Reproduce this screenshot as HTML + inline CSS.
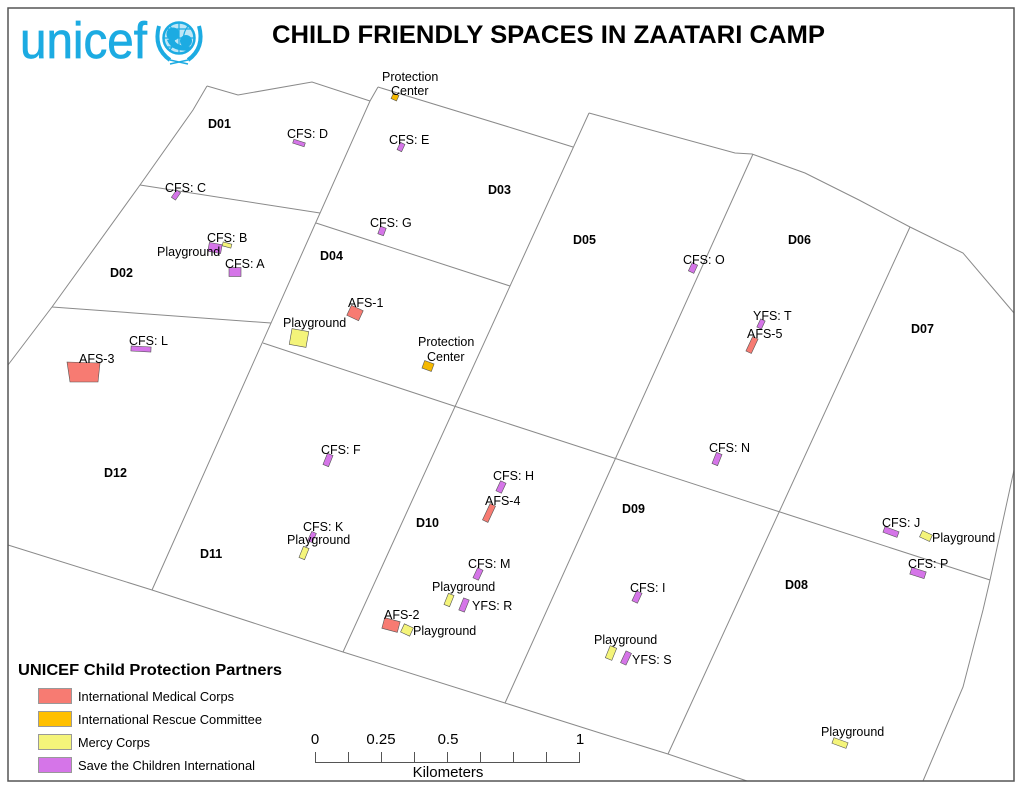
<!DOCTYPE html>
<html><head><meta charset="utf-8"><style>
html,body{margin:0;padding:0;background:#fff;}
svg{display:block;}
text{font-family:"Liberation Sans",Arial,sans-serif;}
</style></head><body>
<svg width="1024" height="791" viewBox="0 0 1024 791" xmlns="http://www.w3.org/2000/svg">
<rect x="0" y="0" width="1024" height="791" fill="#fff"/>
<!-- map lines -->
<g fill="none" stroke="#8a8a8a" stroke-width="1">
<polyline points="207,86 193,110 140,185 52,307 8,365"/>
<polyline points="207,86 238,95 312,82 370,101"/>
<polyline points="378,87 370,101 152,590"/>
<polyline points="378,87 512,128 573,147"/>
<polyline points="589,113 343,652"/>
<polyline points="589,113 735,153 752,154 805,173 859,200 910,227 963,253 1014,313"/>
<polyline points="753,154 505,703"/>
<polyline points="910,227 668,754"/>
<polyline points="140,185 320,213"/>
<polyline points="316,223 510,286"/>
<polyline points="52,307 271,323"/>
<polyline points="263,343 457,407 617,459 780,512 990,580"/>
<polyline points="8,545 152,590 343,652 505,703 600,733 668,754 747,781"/>
<polyline points="1014,470 990,580 983,610 963,687 923,781"/>
</g>
<!-- frame -->
<rect x="8" y="8" width="1006" height="773" fill="none" stroke="#555" stroke-width="1.5"/>

<!-- logo -->
<text x="20" y="58" font-size="51" fill="#1CABE2" stroke="#1CABE2" stroke-width="0.7" textLength="127" lengthAdjust="spacingAndGlyphs">unicef</text>
<g stroke="#1CABE2" fill="none">
<circle cx="179" cy="38" r="15.5" stroke-width="2.5" fill="#bfe6f6"/>
<path d="M164,38 H194 M179,23 V53 M167,29 H191 M167,47 H191 M170,26 Q179,38 170,50 M188,26 Q179,38 188,50" stroke-width="1.2"/>
<path d="M159,26 Q153,48 170,60 M199,26 Q205,48 188,60" stroke-width="4"/>
<path d="M170,60 L188,64 M188,60 L170,64" stroke-width="1.5"/>
</g>
<circle cx="173" cy="34" r="6.5" fill="#1CABE2"/>
<circle cx="186" cy="41" r="6" fill="#1CABE2"/>
<path d="M167,40 Q172,53 191,50 L187,45 Q177,47 173,38 Z" fill="#1CABE2"/>

<!-- title -->
<text x="272" y="43" font-size="25" font-weight="bold" fill="#000" textLength="553" lengthAdjust="spacingAndGlyphs">CHILD FRIENDLY SPACES IN ZAATARI CAMP</text>

<!-- district labels -->
<g font-size="12.5" font-weight="bold" fill="#000">
<text x="208" y="128">D01</text>
<text x="488" y="194">D03</text>
<text x="110" y="277">D02</text>
<text x="320" y="260">D04</text>
<text x="573" y="244">D05</text>
<text x="788" y="244">D06</text>
<text x="911" y="333">D07</text>
<text x="785" y="589">D08</text>
<text x="622" y="513">D09</text>
<text x="416" y="527">D10</text>
<text x="200" y="558">D11</text>
<text x="104" y="477">D12</text>
</g>

<!-- features -->
<g stroke="#555" stroke-width="0.6">
<g fill="#D575E8">
<rect x="293" y="141" width="12" height="4" transform="rotate(18 299 143)"/>
<rect x="398.5" y="143" width="5" height="8" transform="rotate(25 401 147)"/>
<rect x="173.5" y="190.5" width="5" height="9" transform="rotate(35 176 195)"/>
<rect x="208.5" y="243.5" width="13" height="9" transform="rotate(10 215 248)"/>
<rect x="229" y="267.5" width="12" height="9"/>
<rect x="131" y="346.5" width="20" height="5" transform="rotate(3 141 349)"/>
<rect x="379" y="227" width="6" height="8" transform="rotate(20 382 231)"/>
<rect x="325" y="454" width="6" height="12" transform="rotate(22 328 460)"/>
<rect x="498" y="481.5" width="6" height="11" transform="rotate(25 501 487)"/>
<rect x="475" y="568.5" width="6" height="11" transform="rotate(25 478 574)"/>
<rect x="461" y="598.5" width="6" height="13" transform="rotate(22 464 605)"/>
<rect x="634" y="591.5" width="6" height="11" transform="rotate(25 637 597)"/>
<rect x="623" y="651.5" width="6" height="13" transform="rotate(25 626 658)"/>
<rect x="714" y="453" width="6" height="12" transform="rotate(22 717 459)"/>
<rect x="758.5" y="319.5" width="5" height="9" transform="rotate(25 761 324)"/>
<rect x="690" y="263.5" width="6" height="9" transform="rotate(25 693 268)"/>
<rect x="883.5" y="529" width="15" height="6" transform="rotate(20 891 532)"/>
<rect x="910.5" y="569.5" width="15" height="7" transform="rotate(18 918 573)"/>
<rect x="309.5" y="532" width="5" height="10" transform="rotate(25 312 537)"/>
</g>
<g fill="#F4F47A">
<rect x="222.5" y="243" width="9" height="4" transform="rotate(15 227 245)"/>
<rect x="290.5" y="330" width="17" height="16" transform="rotate(10 299 338)"/>
<rect x="446" y="594" width="6" height="12" transform="rotate(22 449 600)"/>
<rect x="402" y="625.5" width="10" height="9" transform="rotate(25 407 630)"/>
<rect x="607.5" y="646.5" width="7" height="13" transform="rotate(22 611 653)"/>
<rect x="920.5" y="532.5" width="11" height="7" transform="rotate(25 926 536)"/>
<rect x="832.5" y="740" width="15" height="6" transform="rotate(20 840 743)"/>
<rect x="301" y="547" width="6" height="12" transform="rotate(22 304 553)"/>
</g>
<g fill="#F5B800">
<rect x="392" y="94" width="6" height="6" transform="rotate(25 395 97)"/>
<rect x="423" y="362" width="10" height="8" transform="rotate(20 428 366)"/>
</g>
<g fill="#F77B72">
<polygon points="67,362 100,363 98,382 70,382"/>
<rect x="348.5" y="307.5" width="13" height="11" transform="rotate(25 355 313)"/>
<rect x="486" y="504" width="6" height="18" transform="rotate(25 489 513)"/>
<rect x="383" y="619.5" width="16" height="11" transform="rotate(15 391 625)"/>
<rect x="749" y="337" width="6" height="16" transform="rotate(25 752 345)"/>
</g>
</g>

<!-- feature labels -->
<g font-size="12.5" fill="#000">
<text x="382" y="81">Protection</text>
<text x="391" y="95">Center</text>
<text x="287" y="138">CFS: D</text>
<text x="389" y="144">CFS: E</text>
<text x="165" y="192">CFS: C</text>
<text x="207" y="242">CFS: B</text>
<text x="157" y="256">Playground</text>
<text x="225" y="268">CFS: A</text>
<text x="129" y="345">CFS: L</text>
<text x="79" y="363">AFS-3</text>
<text x="283" y="327">Playground</text>
<text x="348" y="307">AFS-1</text>
<text x="418" y="346">Protection</text>
<text x="427" y="361">Center</text>
<text x="370" y="227">CFS: G</text>
<text x="321" y="454">CFS: F</text>
<text x="493" y="480">CFS: H</text>
<text x="485" y="505">AFS-4</text>
<text x="468" y="568">CFS: M</text>
<text x="432" y="591">Playground</text>
<text x="472" y="610">YFS: R</text>
<text x="384" y="619">AFS-2</text>
<text x="413" y="635">Playground</text>
<text x="630" y="592">CFS: I</text>
<text x="594" y="644">Playground</text>
<text x="632" y="664">YFS: S</text>
<text x="709" y="452">CFS: N</text>
<text x="753" y="320">YFS: T</text>
<text x="747" y="338">AFS-5</text>
<text x="683" y="264">CFS: O</text>
<text x="882" y="527">CFS: J</text>
<text x="932" y="542">Playground</text>
<text x="908" y="568">CFS: P</text>
<text x="821" y="736">Playground</text>
<text x="303" y="531">CFS: K</text>
<text x="287" y="544">Playground</text>
</g>

<!-- legend -->
<text x="18" y="675" font-size="16" font-weight="bold" fill="#000" textLength="264" lengthAdjust="spacingAndGlyphs">UNICEF Child Protection Partners</text>
<g stroke="#999" stroke-width="1">
<rect x="38.5" y="688.5" width="33" height="15" fill="#F77B72"/>
<rect x="38.5" y="711.5" width="33" height="15" fill="#FFC000"/>
<rect x="38.5" y="734.5" width="33" height="15" fill="#F4F47A"/>
<rect x="38.5" y="757.5" width="33" height="15" fill="#D575E8"/>
</g>
<g font-size="13" fill="#000">
<text x="78" y="701" textLength="156" lengthAdjust="spacingAndGlyphs">International Medical Corps</text>
<text x="78" y="724" textLength="184" lengthAdjust="spacingAndGlyphs">International Rescue Committee</text>
<text x="78" y="747" textLength="72" lengthAdjust="spacingAndGlyphs">Mercy Corps</text>
<text x="78" y="770" textLength="177" lengthAdjust="spacingAndGlyphs">Save the Children International</text>
</g>

<!-- scale bar -->
<g stroke="#555" stroke-width="1" fill="none">
<line x1="315" y1="762.5" x2="580" y2="762.5"/>
<line x1="315.5" y1="752" x2="315.5" y2="763"/>
<line x1="348.5" y1="752" x2="348.5" y2="763"/>
<line x1="381.5" y1="752" x2="381.5" y2="763"/>
<line x1="414.5" y1="752" x2="414.5" y2="763"/>
<line x1="447.5" y1="752" x2="447.5" y2="763"/>
<line x1="480.5" y1="752" x2="480.5" y2="763"/>
<line x1="513.5" y1="752" x2="513.5" y2="763"/>
<line x1="546.5" y1="752" x2="546.5" y2="763"/>
<line x1="579.5" y1="752" x2="579.5" y2="763"/>
</g>
<g font-size="15" fill="#000" text-anchor="middle">
<text x="315" y="744">0</text>
<text x="381" y="744">0.25</text>
<text x="448" y="744">0.5</text>
<text x="580" y="744">1</text>
<text x="448" y="777">Kilometers</text>
</g>
</svg>
</body></html>
